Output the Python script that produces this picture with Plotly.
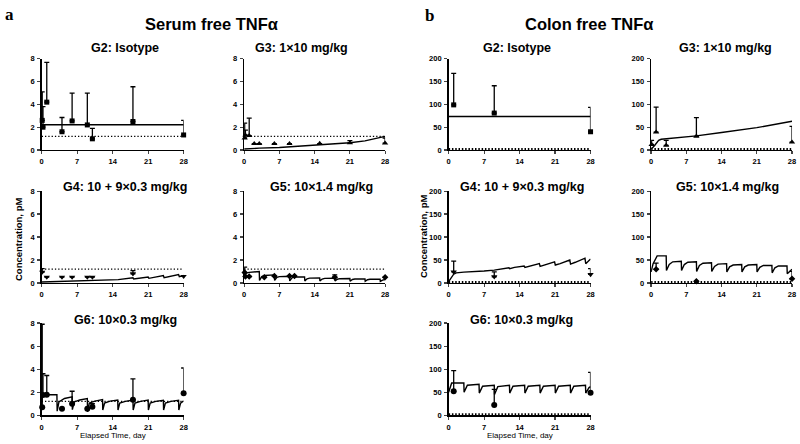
import plotly.graph_objects as go

W, H = 800, 444
DAY_TICKS = [0, 7, 14, 21, 28]
SERUM_TICKS = [0, 2, 4, 6, 8]
COLON_TICKS = [0, 50, 100, 150, 200]
SERUM_LLOQ = 1.2
COLON_LLOQ = 1.5

TITLES = ["G2: Isotype", "G3: 1\u00d710 mg/kg", "G4: 10 + 9\u00d70.3 mg/kg",
          "G5: 10\u00d71.4 mg/kg", "G6: 10\u00d70.3 mg/kg"]

# ---------------- Serum free TNFa: observed (mean, mean+SD) ----------------
s_g2_t = [0.1, 0.25, 1, 4, 6, 9, 10, 18, 28]
s_g2_y = [2.6, 2.0, 4.2, 1.6, 2.55, 2.2, 0.98, 2.5, 1.32]
s_g2_top = [5.1, 3.8, 7.7, 2.85, 5.0, 5.0, 1.9, 5.55, 2.6]

s_g3_t = [0.1, 0.25, 1, 2, 3, 6, 9, 15, 21, 28]
s_g3_y = [1.05, 1.3, 1.25, 0.55, 0.55, 0.55, 0.55, 0.56, 0.62, 0.6]
s_g3_top = [2.35, 1.75, 2.8, None, None, None, None, None, 0.82, 1.05]

s_g4_t = [0.1, 1, 4, 6, 9, 10, 18, 28]
s_g4_y = [0.95, 0.51, 0.51, 0.51, 0.51, 0.51, 0.8, 0.58]
s_g4_top = [1.25, None, None, None, None, None, 1.07, None]

s_g5_t = [0.1, 0.25, 1, 4, 6, 9, 10, 18, 28]
s_g5_y = [0.9, 0.55, 0.56, 0.5, 0.6, 0.6, 0.6, 0.5, 0.5]
s_g5_top = [1.38, None, None, None, None, None, None, 0.7, None]

s_g6_t = [0.1, 0.25, 1, 4, 6, 9, 10, 18, 28]
s_g6_y = [0.7, 1.75, 1.77, 0.55, 1.0, 0.55, 0.74, 1.34, 1.9]
s_g6_top = [7.9, 3.6, 3.45, None, 2.08, None, 1.0, 3.15, 4.1]

# ---------------- Serum free TNFa: model curves ----------------
s_g2_mt = [0, 28]
s_g2_my = [2.22, 2.22]

s_g3_mt = [0, 1, 3, 7, 10, 14, 18, 21, 24, 28]
s_g3_my = [0.08, 0.12, 0.16, 0.22, 0.3, 0.42, 0.52, 0.63, 0.8, 1.2]

s_g4_mt = [0, 3, 3.1, 6, 6.1, 9, 9.1, 12, 12.1, 15, 15.1, 18, 18.15, 21, 21.15,
           24, 24.15, 27, 27.15, 28]
s_g4_my = [0.08, 0.13, 0.12, 0.17, 0.16, 0.21, 0.2, 0.26, 0.24, 0.32, 0.29, 0.45,
           0.35, 0.52, 0.4, 0.64, 0.46, 0.73, 0.55, 0.65]

s_g5_mt = [0, 0.3, 1, 3, 3.05, 3.5, 4, 6, 6.05, 6.5, 7, 9, 9.05, 9.5, 10, 12, 12.05,
           12.5, 13, 15, 15.05, 15.5, 16, 18, 18.05, 18.5, 19, 21, 21.05, 21.5, 22,
           24, 24.05, 24.5, 25, 27, 27.05, 27.5, 28]
s_g5_my = [0.75, 0.85, 0.92, 1.0, 0.22, 0.55, 0.65, 0.7, 0.22, 0.48, 0.55, 0.58,
           0.18, 0.45, 0.52, 0.52, 0.18, 0.36, 0.42, 0.44, 0.18, 0.34, 0.4, 0.42,
           0.17, 0.32, 0.37, 0.38, 0.15, 0.3, 0.34, 0.35, 0.14, 0.28, 0.32, 0.33,
           0.13, 0.25, 0.3]

s_g6_mt = [0, 0.15, 1, 3, 3.05, 3.4, 4.5, 6, 6.05, 6.4, 7.5, 9, 9.05, 9.4, 10.5, 12,
           12.05, 12.4, 13.5, 15, 15.05, 15.4, 16.5, 18, 18.05, 18.4, 19.5, 21,
           21.05, 21.4, 22.5, 24, 24.05, 24.4, 25.5, 27, 27.05, 27.4, 28]
s_g6_my = [1.0, 1.75, 1.78, 1.78, 0.35, 1.15, 1.45, 1.6, 0.48, 1.15, 1.32, 1.45,
           0.28, 1.05, 1.22, 1.35, 0.45, 1.05, 1.22, 1.32, 0.45, 1.05, 1.2, 1.32,
           0.45, 1.05, 1.2, 1.32, 0.45, 1.05, 1.2, 1.3, 0.45, 1.05, 1.2, 1.3,
           0.45, 1.05, 1.25]

# ---------------- Colon free TNFa: observed ----------------
c_g2_t = [1, 9, 28]
c_g2_y = [99, 81, 40]
c_g2_top = [168, 141, 93.5]

c_g3_t = [0.1, 1, 3, 9, 28]
c_g3_y = [12, 39, 10, 30, 17]
c_g3_top = [21, 94, 21, 71, 52]

c_g4_t = [1, 9, 28]
c_g4_y = [24, 13.5, 18.5]
c_g4_top = [47.5, 24, 31]

c_g5_t = [1, 9, 28]
c_g5_y = [30, 3.5, 9]
c_g5_top = [43, None, 25]

c_g6_t = [1, 9, 28]
c_g6_y = [52, 22, 49]
c_g6_top = [97, 56, 93]

# ---------------- Colon free TNFa: model curves ----------------
c_g2_mt = [0, 28]
c_g2_my = [73.4, 73.4]

c_g3_mt = [0, 0.3, 0.7, 1, 1.5, 2, 3, 5, 7, 9, 14, 21, 28]
c_g3_my = [3, 5, 10, 15, 21, 23.5, 24.5, 26.5, 28.5, 31, 38.5, 49, 63]

c_g4_mt = [0, 0.5, 1, 1.5, 2, 3, 7, 9, 11.9, 12.05, 13, 14.9, 15.05, 16, 17.9,
           18.05, 19, 20.9, 21.05, 22, 23.9, 24.05, 25, 26.9, 27.05, 28]
c_g4_my = [3, 12, 19, 22, 23, 23.5, 26, 28, 33, 31, 34, 37, 34, 37, 42, 36, 39, 46,
           39, 42, 50, 41, 45, 54, 42, 52]

c_g5_mt = [0, 0.4, 1.2, 3, 3.05, 3.6, 4.3, 6, 6.05, 6.6, 7.3, 9, 9.05, 9.6, 10.3,
           12, 12.05, 12.6, 13.3, 15, 15.05, 15.6, 16.3, 18, 18.05, 18.6, 19.3, 21,
           21.05, 21.6, 22.3, 24, 24.05, 24.6, 25.3, 27, 27.05, 27.6, 28]
c_g5_my = [24, 42, 59, 59, 27, 40, 46, 47, 27, 40, 45, 46, 25, 38, 43, 44, 25, 36,
           41, 42, 24, 35, 39, 40, 24, 35, 39, 40, 24, 34, 38, 38, 22, 33, 37, 37,
           20, 26, 30]

c_g6_mt = [0, 0.6, 3, 3.05, 3.7, 6, 6.05, 6.7, 9, 9.05, 9.7, 12, 12.05, 12.7, 15,
           15.05, 15.7, 18, 18.05, 18.7, 21, 21.05, 21.7, 24, 24.05, 24.7, 27,
           27.05, 27.7, 28]
c_g6_my = [50, 70, 70, 50, 65, 67, 48, 63, 65, 45, 62, 65, 48, 63, 65, 48, 63, 65,
           48, 63, 65, 48, 63, 65, 48, 63, 65, 48, 60, 62]

SYMBOLS = ["square", "triangle-up", "triangle-down", "diamond", "circle"]
SIZES = [5, 5.5, 5.5, 5, 6]

# panel pixel boxes: (x0, x1, ybottom, ytop)
BOXES = [
    (40, 183, 149, 56), (244, 386, 149, 56), (40, 183, 284.7, 191),
    (244, 386, 284.7, 191), (40, 183, 419.7, 325.7),
    (450, 593, 149, 56), (654, 796, 149, 56), (450, 593, 284.7, 191),
    (654, 796, 284.7, 191), (450, 593, 419.7, 325.7),
]
TITLE_POS = [(124, 45), (302, 45), (124, 187), (322, 187), (124, 323),
             (519, 45), (729, 45), (524, 187), (731, 187), (523, 323)]

serum = [(s_g2_t, s_g2_y, s_g2_top, s_g2_mt, s_g2_my),
         (s_g3_t, s_g3_y, s_g3_top, s_g3_mt, s_g3_my),
         (s_g4_t, s_g4_y, s_g4_top, s_g4_mt, s_g4_my),
         (s_g5_t, s_g5_y, s_g5_top, s_g5_mt, s_g5_my),
         (s_g6_t, s_g6_y, s_g6_top, s_g6_mt, s_g6_my)]
colon = [(c_g2_t, c_g2_y, c_g2_top, c_g2_mt, c_g2_my),
         (c_g3_t, c_g3_y, c_g3_top, c_g3_mt, c_g3_my),
         (c_g4_t, c_g4_y, c_g4_top, c_g4_mt, c_g4_my),
         (c_g5_t, c_g5_y, c_g5_top, c_g5_mt, c_g5_my),
         (c_g6_t, c_g6_y, c_g6_top, c_g6_mt, c_g6_my)]

fig = go.Figure()
layout = dict(width=W, height=H, margin=dict(l=0, r=0, t=0, b=0),
              paper_bgcolor="white", plot_bgcolor="white", showlegend=False)
annotations = []
TICKFONT = dict(family="Liberation Sans", size=7.5, color="black", weight="bold")

for i, (panel, is_serum) in enumerate([(p, True) for p in serum] + [(p, False) for p in colon]):
    k = i + 1
    t, y, top, mt, my = panel
    g = i % 5
    x0, x1, yb, yt = BOXES[i]
    xa = "x" if k == 1 else f"x{k}"
    ya = "y" if k == 1 else f"y{k}"
    lloq = SERUM_LLOQ if is_serum else COLON_LLOQ
    fig.add_trace(go.Scatter(x=[0, 28], y=[lloq, lloq], mode="lines", xaxis=xa, yaxis=ya,
                             line=dict(color="black", width=1.2 if is_serum else 2.4,
                                       dash="1.3px,2px" if is_serum else "1.5px,1.8px"),
                             cliponaxis=False))
    fig.add_trace(go.Scatter(x=mt, y=my, mode="lines", xaxis=xa, yaxis=ya,
                             line=dict(color="black", width=1.4), cliponaxis=False))
    err = [None if tp is None else tp - v for v, tp in zip(y, top)]
    fig.add_trace(go.Scatter(x=t, y=y, mode="markers", xaxis=xa, yaxis=ya,
                             marker=dict(symbol=SYMBOLS[g], size=SIZES[g], color="black"),
                             error_y=dict(type="data", symmetric=False, array=err,
                                          arrayminus=[0] * len(err), color="black",
                                          thickness=1.3, width=2.5),
                             cliponaxis=False))
    axname = "xaxis" if k == 1 else f"xaxis{k}"
    ayname = "yaxis" if k == 1 else f"yaxis{k}"
    layout[axname] = dict(domain=[x0 / W, x1 / W], anchor=ya, range=[0, 28],
                          tickvals=DAY_TICKS, ticks="outside", ticklen=3, tickwidth=1.2,
                          showline=True, linecolor="black", linewidth=1.5, showgrid=False,
                          zeroline=False, tickfont=TICKFONT, ticklabelstandoff=1)
    layout[ayname] = dict(domain=[1 - yb / H, 1 - yt / H], anchor=xa,
                          range=[0, 8] if is_serum else [0, 200],
                          tickvals=SERUM_TICKS if is_serum else COLON_TICKS,
                          ticks="outside", ticklen=3, tickwidth=1.2, showline=True,
                          linecolor="black", linewidth=1.5, showgrid=False, zeroline=False,
                          tickfont=TICKFONT, ticklabelstandoff=1)
    tx, ty = TITLE_POS[i]
    annotations.append(dict(x=tx / W, y=1 - ty / H, xref="paper", yref="paper",
                            text=TITLES[g], showarrow=False, xanchor="center", yanchor="middle",
                            font=dict(family="Liberation Sans", size=12.5, color="black",
                                      weight="bold")))

def ann(text, px, py, size, bold=True, family="Liberation Sans", angle=0):
    annotations.append(dict(x=px / W, y=1 - py / H, xref="paper", yref="paper", text=text,
                            showarrow=False, xanchor="center", yanchor="middle", textangle=angle,
                            font=dict(family=family, size=size, color="black",
                                      weight="bold" if bold else "normal")))

ann("Serum free TNF\u03b1", 211, 20, 16.5)
ann("Colon free TNF\u03b1", 591, 20, 16.5)
ann("a", 8, 11, 17, family="Liberation Serif")
ann("b", 431, 12, 17, family="Liberation Serif")
ann("Concentration, pM", 16, 240, 9.5, angle=-90)
ann("Concentration, pM", 424, 237, 9.5, angle=-90)
ann("Elapsed Time, day", 112, 440, 8, bold=False)
ann("Elapsed Time, day", 522, 440, 8, bold=False)

layout["annotations"] = annotations
fig.update_layout(**layout)
fig.write_html("out.html", config={"displayModeBar": False, "staticPlot": True},
               post_script="document.body.style.margin='0';document.body.style.overflow='hidden';")
